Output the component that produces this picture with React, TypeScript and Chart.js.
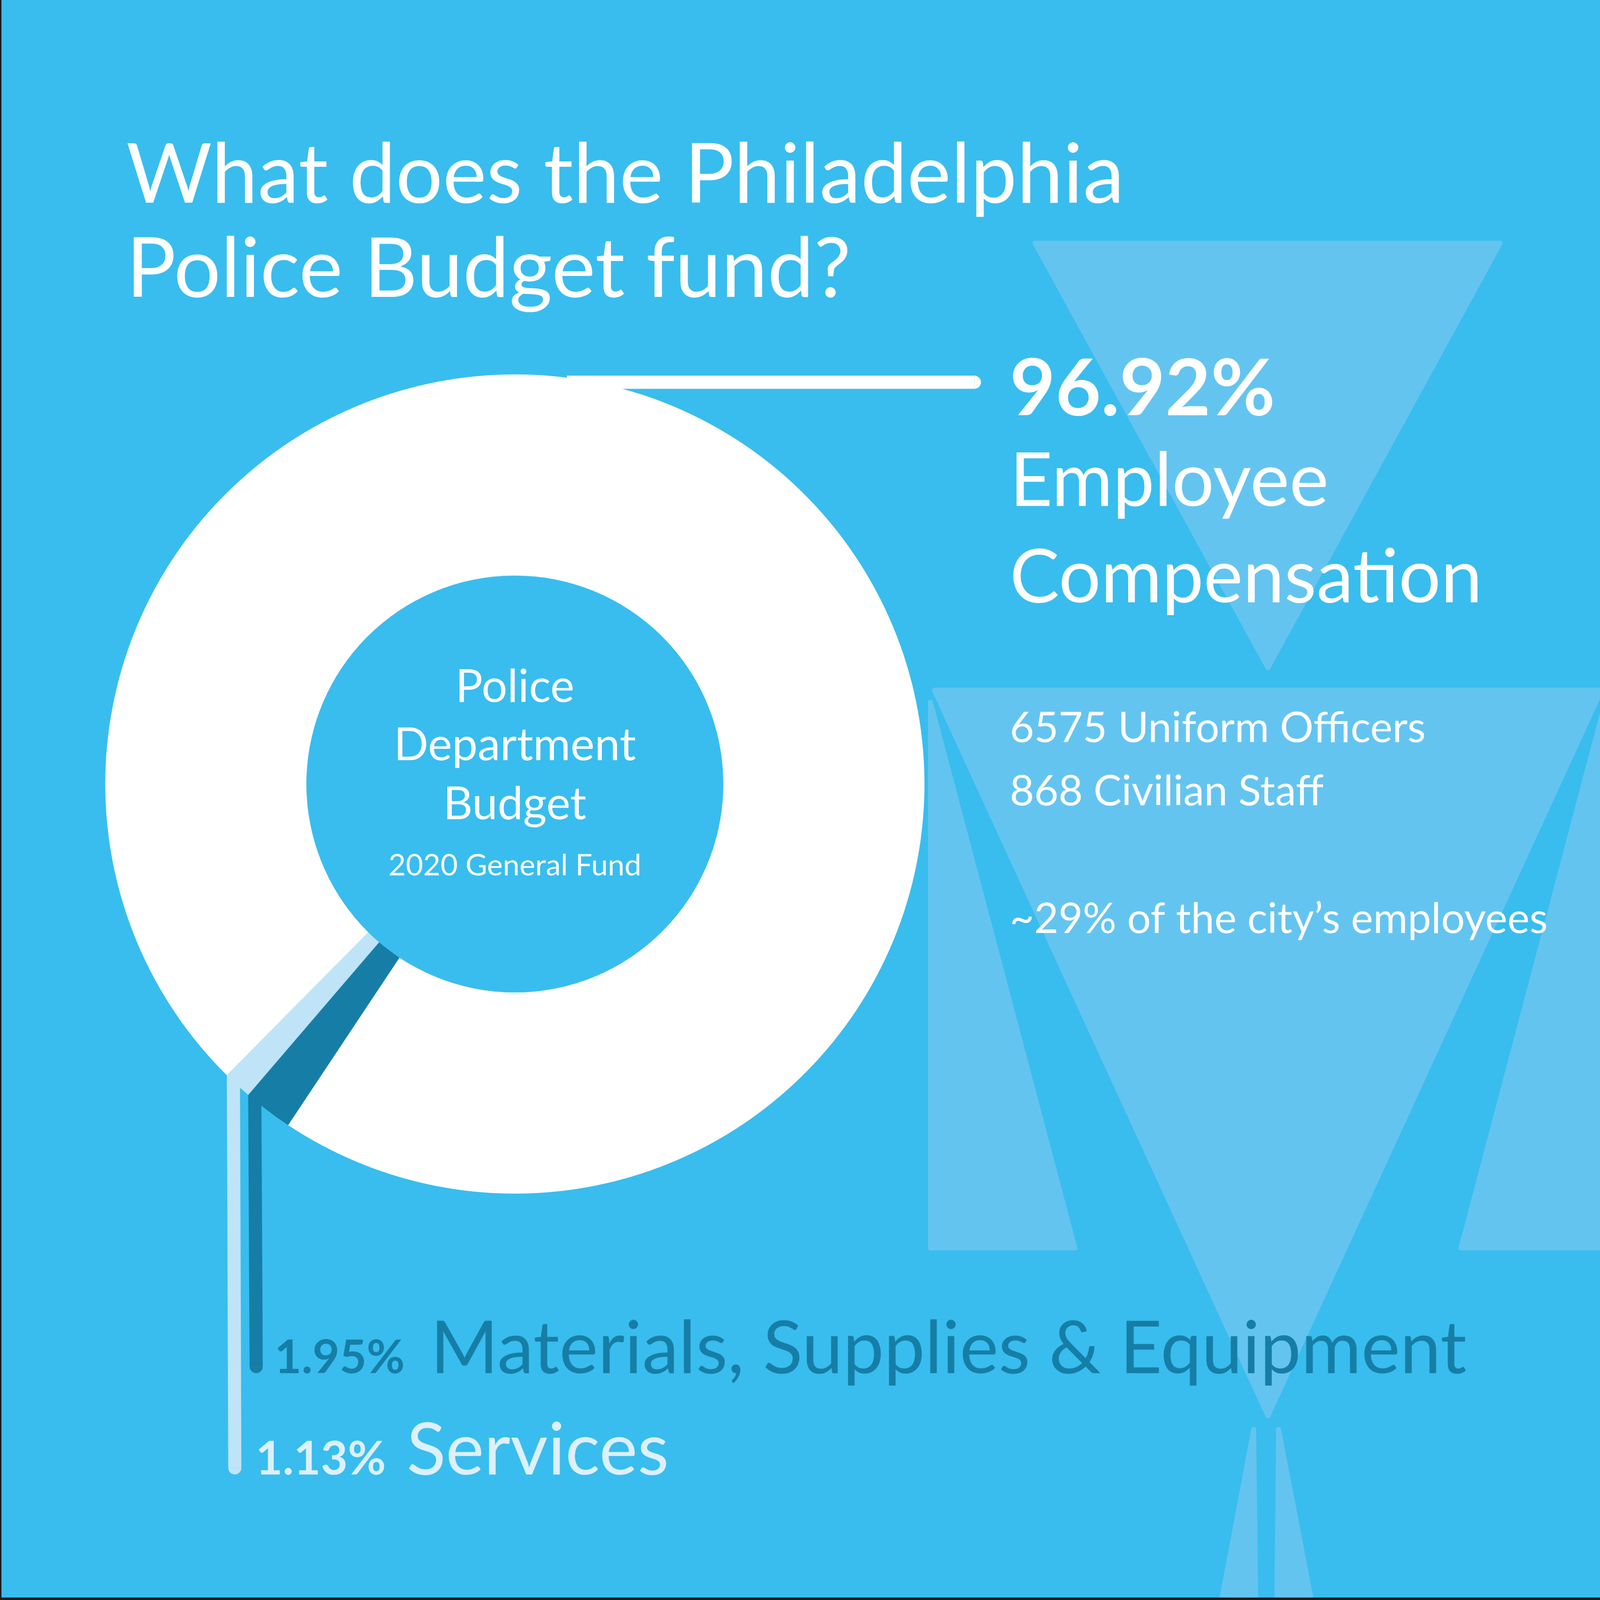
import { useEffect, useRef } from 'react';
import { Chart, DoughnutController, ArcElement } from 'chart.js';

Chart.register(DoughnutController, ArcElement);

// budget split, 2020 general fund
const categories = ['Materials, Supplies & Equipment', 'Services', 'Employee Compensation'];
const shares = [1.95, 1.13, 96.92];
const sliceColors = ['#167EA6', '#BFE4F8', '#FFFFFF'];
const labelColors = ['#167EA6', '#DDF0FB', '#FFFFFF'];

const titleLines = ['What does the Philadelphia', 'Police Budget fund?'];
const centerLines = ['Police', 'Department', 'Budget'];
const centerNote = '2020 General Fund';
const staffNotes = ['6575 Uniform Officers', '868 Civilian Staff'];
const cityNote = '~29% of the city\u2019s employees';

const SIZE = 4500;
const BG = '#38BDEE';
const SHAPE = '#64C4F0';
const FONT = 'Lato, "Open Sans", sans-serif';

function put(
  ctx: CanvasRenderingContext2D,
  s: string,
  x: number,
  y: number,
  size: number,
  color: string,
  weight = 400,
  align: CanvasTextAlign = 'left'
) {
  ctx.font = `${weight} ${size}px ${FONT}`;
  ctx.fillStyle = color;
  ctx.textAlign = align;
  ctx.textBaseline = 'alphabetic';
  ctx.fillText(s, x, y);
  return ctx.measureText(s).width;
}

const backdrop = {
  id: 'backdrop',
  beforeDraw(chart: any) {
    const { ctx, width, height } = chart;
    ctx.save();
    ctx.fillStyle = BG;
    ctx.fillRect(0, 0, width, height);

    // faint triangles behind everything
    const shapes = [
      [[2911, 684], [4219, 684], [3566, 1878]],
      [[2628, 1941], [4504, 1941], [3566, 3982]],
      [[2617, 1975], [2617, 3510], [3023, 3510]],
      [[4515, 1975], [4515, 3510], [4109, 3510]],
      [[3526, 4020], [3432, 4520], [3532, 4520]],
      [[3596, 4020], [3591, 4520], [3692, 4520]],
    ];
    ctx.fillStyle = SHAPE;
    ctx.strokeStyle = SHAPE;
    ctx.lineJoin = 'round';
    ctx.lineWidth = 14;
    for (const pts of shapes) {
      ctx.beginPath();
      pts.forEach(([x, y], i) => (i ? ctx.lineTo(x, y) : ctx.moveTo(x, y)));
      ctx.closePath();
      ctx.fill();
      ctx.stroke();
    }

    ctx.fillStyle = '#1c1c1c';
    ctx.fillRect(0, 0, 4, height);
    ctx.fillRect(0, height - 7, width, 7);
    ctx.restore();
  },
};

const annotations = {
  id: 'annotations',
  afterDatasetsDraw(chart: any) {
    const { ctx } = chart;
    const arcs = chart.getDatasetMeta(0).data as any[];
    const cx = arcs[0].x;
    const cy = arcs[0].y;
    const R = arcs[0].outerRadius;
    const lw = 37;
    const bottoms = [3862, 4147];

    ctx.save();
    // leader bars hanging from the two small slices
    [0, 1].forEach((i) => {
      const a = arcs[i].endAngle;
      const px = cx + R * Math.cos(a) + lw / 2;
      const py = cy + R * Math.sin(a);
      ctx.strokeStyle = sliceColors[i];
      ctx.lineWidth = lw;
      ctx.lineCap = 'butt';
      ctx.beginPath();
      ctx.moveTo(px, py);
      ctx.lineTo(px + 4, bottoms[i] - lw / 2);
      ctx.stroke();
      ctx.fillStyle = sliceColors[i];
      ctx.beginPath();
      ctx.arc(px + 4, bottoms[i] - lw / 2, lw / 2, 0, Math.PI);
      ctx.fill();
    });

    // leader for the large slice
    ctx.strokeStyle = '#FFFFFF';
    ctx.fillStyle = '#FFFFFF';
    ctx.lineWidth = lw;
    ctx.beginPath();
    ctx.moveTo(cx + 146, cy - R + 22);
    ctx.lineTo(cx + 1311 - lw / 2, cy - R + 22);
    ctx.stroke();
    ctx.beginPath();
    ctx.arc(cx + 1311 - lw / 2, cy - R + 22, lw / 2, -Math.PI / 2, Math.PI / 2);
    ctx.fill();

    // title
    put(ctx, titleLines[0], 355, 570, 233, '#FFFFFF');
    put(ctx, titleLines[1], 355, 835, 233, '#FFFFFF');

    // centre text
    put(ctx, centerLines[0], cx, 1974, 128, '#FFFFFF', 400, 'center');
    put(ctx, centerLines[1], cx, 2138, 128, '#FFFFFF', 400, 'center');
    put(ctx, centerLines[2], cx, 2304, 128, '#FFFFFF', 400, 'center');
    put(ctx, centerNote, cx, 2462, 84, '#FFFFFF', 400, 'center');

    // main slice label
    const [w1, w2] = categories[2].split(' ');
    put(ctx, shares[2].toFixed(2) + '%', 2840, 1168, 221, labelColors[2], 700);
    put(ctx, w1, 2840, 1423, 209, labelColors[2]);
    put(ctx, w2, 2840, 1694, 209, labelColors[2]);
    put(ctx, staffNotes[0], 2840, 2087, 118, '#FFFFFF');
    put(ctx, staffNotes[1], 2840, 2265, 118, '#FFFFFF');
    put(ctx, cityNote, 2840, 2624, 118, '#FFFFFF');

    // small slice labels
    const lx = [772, 719];
    [0, 1].forEach((i) => {
      const pw = put(ctx, shares[i].toFixed(2) + '%', lx[i], bottoms[i], 131, labelColors[i], 700);
      put(ctx, categories[i], lx[i] + pw + (i ? 58 : 72), bottoms[i], i ? 204 : 206, labelColors[i]);
    });
    ctx.restore();
  },
};

export default function App() {
  const chartRef = useRef<HTMLCanvasElement>(null);
  // the viewport can be smaller than the photo; fit the square into it
  const css = Math.min(window.innerWidth, window.innerHeight) || SIZE;

  useEffect(() => {
    if (!chartRef.current) return;

    const chart = new Chart(chartRef.current, {
      type: 'doughnut',
      data: {
        labels: categories,
        datasets: [{
          data: shares,
          backgroundColor: sliceColors,
          borderWidth: 0,
        }],
      },
      options: {
        responsive: false,
        animation: false,
        devicePixelRatio: 1,
        events: [],
        rotation: 213.6,
        cutout: '50.9%',
        layout: { padding: { left: 296, right: 1900, top: 1053, bottom: 1143 } },
      },
      plugins: [backdrop, annotations],
    });

    return () => chart.destroy();
  }, []);

  return (
    <div style={{ position: 'absolute', left: 0, top: 0, width: css, height: css, overflow: 'hidden' }}>
      <canvas
        ref={chartRef}
        width={SIZE}
        height={SIZE}
        style={{ display: 'block', width: css, height: css }}
      />
    </div>
  );
}
